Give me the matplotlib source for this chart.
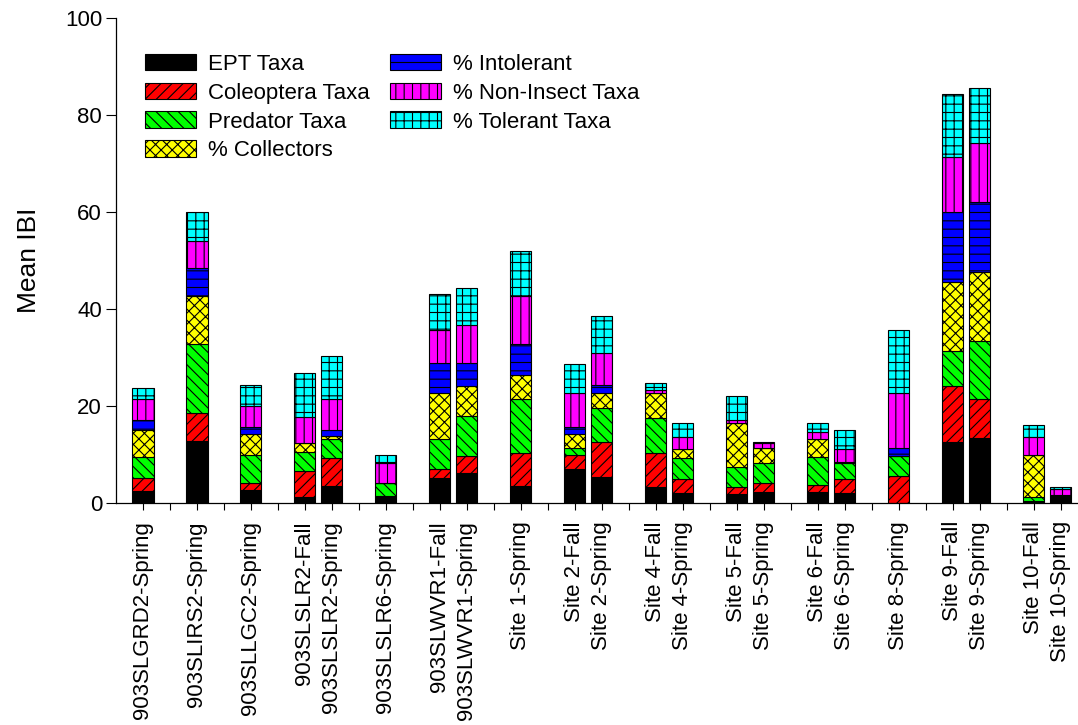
""" Stacked IBI metric bars per sampling site and season. """

import numpy as np
import matplotlib
matplotlib.use('Agg')
import matplotlib.pyplot as plt

plt.rcParams['font.family'] = ['Liberation Sans', 'DejaVu Sans']
plt.rcParams['hatch.linewidth'] = 0.8

# Tick labels along x; '' is an empty slot between site groups.
slot_labels = ['903SLGRD2-Spring', '', '903SLIRS2-Spring', '', '903SLLGC2-Spring', '',
               '903SLSLR2-Fall', '903SLSLR2-Spring', '', '903SLSLR6-Spring', '',
               '903SLWVR1-Fall', '903SLWVR1-Spring', '', 'Site 1-Spring', '',
               'Site 2-Fall', 'Site 2-Spring', '', 'Site 4-Fall', 'Site 4-Spring', '',
               'Site 5-Fall', 'Site 5-Spring', '', 'Site 6-Fall', 'Site 6-Spring', '',
               'Site 8-Spring', '', 'Site 9-Fall', 'Site 9-Spring', '',
               'Site 10-Fall', 'Site 10-Spring']

# Metric contributions (one value per labelled bar, bottom to top).
ept_taxa = [2.5, 12.8, 2.7, 1.3, 3.5, 1.4, 5.1, 6.1, 3.5, 7.1, 5.4,
            3.4, 2.0, 1.9, 2.3, 2.3, 2.0, 0.0, 12.6, 13.5, 0.3, 1.6]
coleoptera_taxa = [2.7, 5.7, 1.4, 5.2, 5.7, 0.0, 2.0, 3.6, 6.9, 2.9, 7.2,
                   7.0, 2.9, 1.3, 1.8, 1.5, 2.9, 5.6, 11.6, 7.9, 0.2, 0.0]
predator_taxa = [4.2, 14.2, 5.9, 4.1, 4.0, 2.8, 6.0, 8.2, 11.0, 1.3, 6.9,
                 7.2, 4.3, 4.3, 4.2, 5.6, 3.3, 4.1, 7.1, 12.1, 0.7, 0.0]
pct_collectors = [5.6, 10.0, 4.2, 1.7, 0.7, 0.0, 9.6, 6.3, 4.9, 2.9, 3.1,
                  5.0, 1.9, 8.9, 3.0, 3.7, 0.3, 0.0, 14.3, 14.2, 8.7, 0.0]
pct_intolerant = [2.1, 5.8, 1.4, 0.0, 1.1, 0.0, 6.1, 4.6, 6.4, 1.5, 1.7,
                  0.0, 0.0, 0.0, 0.0, 0.0, 0.0, 1.6, 14.3, 14.3, 0.0, 0.0]
pct_non_insect = [4.3, 5.6, 4.3, 5.5, 6.4, 4.1, 6.9, 7.9, 10.0, 7.0, 6.6,
                  0.8, 2.6, 0.7, 1.1, 1.5, 2.6, 11.4, 11.4, 12.2, 3.8, 1.2]
pct_tolerant = [2.4, 5.9, 4.4, 9.1, 9.0, 1.6, 7.4, 7.7, 9.3, 5.9, 7.7,
                1.3, 2.7, 5.0, 0.2, 1.8, 3.9, 13.0, 13.0, 11.4, 2.4, 0.4]

series = [
    ('EPT Taxa', ept_taxa, '#000000', ''),
    ('Coleoptera Taxa', coleoptera_taxa, '#ff0000', '///'),
    ('Predator Taxa', predator_taxa, '#00ff00', '\\\\\\'),
    ('% Collectors', pct_collectors, '#ffff00', 'xxx'),
    ('% Intolerant', pct_intolerant, '#0000ff', '--'),
    ('% Non-Insect Taxa', pct_non_insect, '#ff00ff', '||'),
    ('% Tolerant Taxa', pct_tolerant, '#00ffff', '++'),
]

# Bars sit on the labelled slots only.
x = np.array([i for i, lab in enumerate(slot_labels) if lab])

fig = plt.figure(figsize=(10.78, 7.25), dpi=100)
ax = fig.add_axes([116 / 1078, 222 / 725, 962 / 1078, 485 / 725])

bottom = np.zeros(len(x))
for name, vals, color, hatch in series:
    vals = np.asarray(vals)
    ax.bar(x, vals, width=0.78, bottom=bottom, color=color, hatch=hatch,
           edgecolor='black', linewidth=0.8, label=name)
    bottom += vals

ax.set_xlim(-1, 34.64)
ax.set_ylim(0, 100)
ax.set_yticks([0, 20, 40, 60, 80, 100])
ax.set_xticks(np.arange(len(slot_labels)))
ax.set_xticklabels(slot_labels, rotation=90)

ax.spines['top'].set_visible(False)
ax.spines['right'].set_visible(False)
for side in ('left', 'bottom'):
    ax.spines[side].set_linewidth(0.9)

ax.tick_params(axis='x', direction='out', length=5, width=0.8, labelsize=16, pad=8)
ax.tick_params(axis='y', direction='out', length=7, width=0.8, labelsize=16, pad=3)

ax.set_ylabel('Mean IBI', fontsize=19)
ax.yaxis.set_label_coords(-0.078, 0.5)

ax.legend(ncol=2, frameon=False, fontsize=16, loc='upper left',
          bbox_to_anchor=(0.03, 0.926), borderpad=0, borderaxespad=0,
          handlelength=2.3, handleheight=0.77, handletextpad=0.54,
          labelspacing=0.35, columnspacing=0.9)

plt.savefig('out.png', dpi=100)
